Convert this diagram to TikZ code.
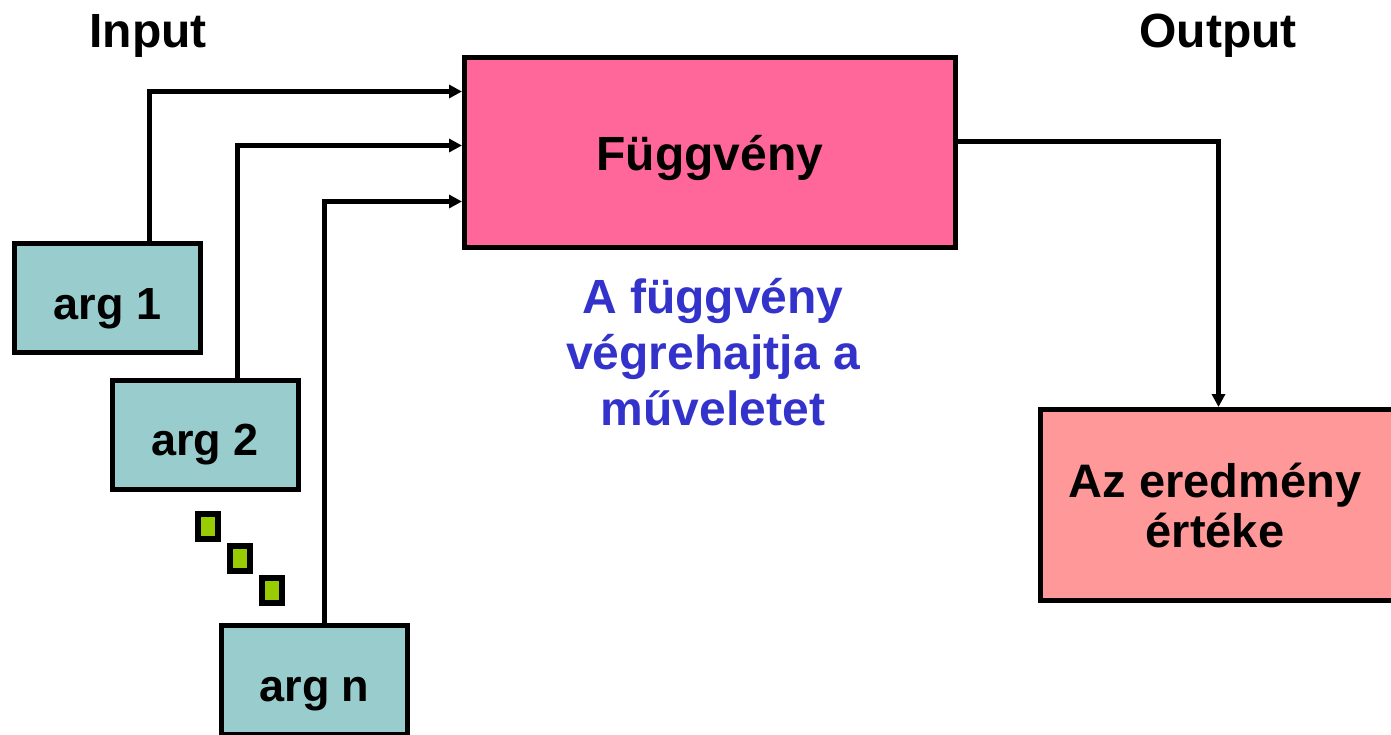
\documentclass[tikz,border=0pt]{standalone}
\usepackage{fontspec}
\setmainfont{Liberation Sans}
\usepackage{tikz}
\usetikzlibrary{arrows.meta}
\definecolor{fvpink}{HTML}{FF6699}
\definecolor{argteal}{HTML}{99CCCC}
\definecolor{respink}{HTML}{FF9999}
\definecolor{noteblue}{HTML}{3333CC}
\definecolor{dotgreen}{HTML}{99CC00}
\tikzstyle{txt}=[font=\fontsize{48}{56}\selectfont\bfseries, align=center]
\tikzstyle{box}=[draw, line width=5pt, inner sep=0pt, txt]
\tikzstyle{argbox}=[box, fill=argteal, minimum width=186pt, minimum height=109pt, font=\fontsize{45}{50}\selectfont\bfseries, text height=42pt, text depth=0pt]
\tikzstyle{dot}=[draw, line width=6pt, fill=dotgreen, inner sep=0pt, minimum width=20pt, minimum height=25pt]
\tikzstyle{conn}=[line width=5pt, -{Triangle[length=13pt,width=13pt]}]

\begin{document}
\begin{tikzpicture}[x=1pt,y=-1pt]
\useasboundingbox (0,0) rectangle (1391,734);
\node[txt, text depth=0pt] (input) at (148,31) {Input};
\node[txt, text depth=0pt] (output) at (1218,31) {Output};
\node[box, fill=fvpink, minimum width=491pt, minimum height=190pt, text height=35pt, text depth=0pt] (fv) at (710,152.5) {Függvény};
\node[txt, text=noteblue] (note) at (713,352.5) {A függvény\\végrehajtja a\\műveletet};
\node[argbox] (arg1) at (107.5,298) {arg 1};
\node[argbox] (arg2) at (205,434.5) {arg 2};
\node[argbox] (argn) at (314.5,680) {arg n};
\foreach \x/\y [count=\i] in {208/526.5,239.5/558.5,271.5/590.5} {
	\node[dot] (d\i) at (\x,\y) {};
}
\node[box, fill=respink, minimum width=380pt, minimum height=191pt] (res) at (1230.5,505) {};
\node[txt, font=\fontsize{47}{50}\selectfont\bfseries] (restxt) at (1215,505) {Az eredmény\\értéke};
% bend points
\coordinate (k1) at (149.5,91.5);
\coordinate (k2) at (237,145.5);
\coordinate (kn) at (324.5,201.5);
\coordinate (ko) at (1218.5,141.5);
\draw[conn] (arg1.north -| k1) |- (fv.west |- k1);
\draw[conn] (arg2.north -| k2) |- (fv.west |- k2);
\draw[conn] (argn.north -| kn) |- (fv.west |- kn);
\draw[conn] (fv.east |- ko) -| (res.north -| ko);
\end{tikzpicture}
\end{document}
